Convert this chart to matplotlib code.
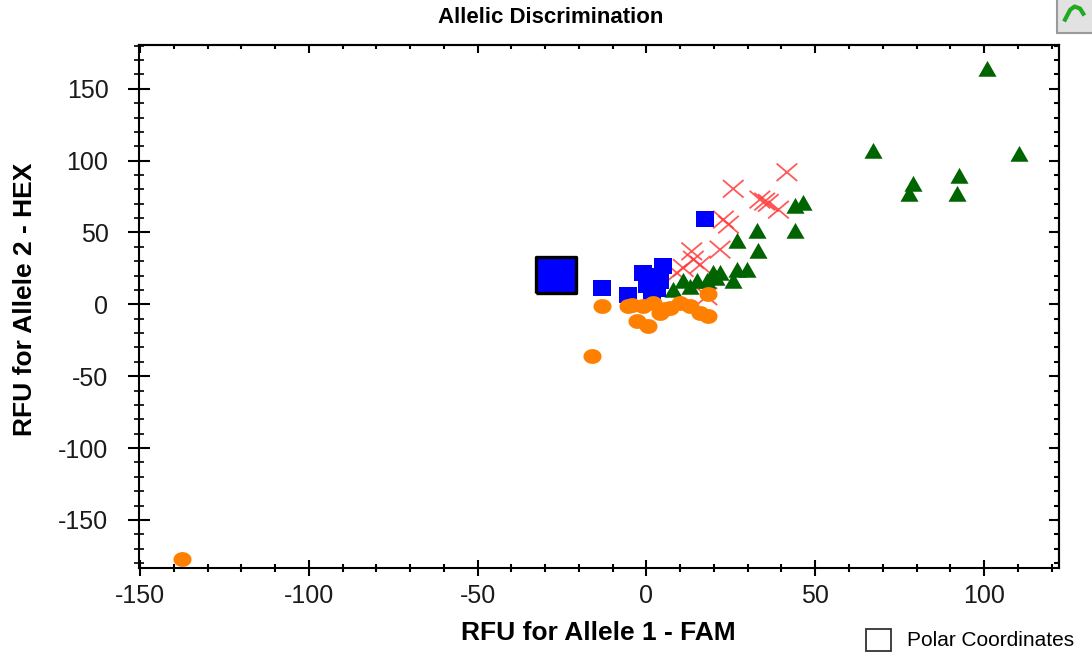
import numpy as np
import matplotlib
matplotlib.use("Agg")
import matplotlib.pyplot as plt
from matplotlib.path import Path
from matplotlib.ticker import MultipleLocator
from matplotlib.patches import Rectangle
from matplotlib.lines import Line2D

plt.rcParams['font.family'] = ['Liberation Sans', 'DejaVu Sans']
plt.rcParams['axes.unicode_minus'] = False

# ---- data (RFU FAM, RFU HEX) ----
homo1_x = [100.8, 67.2, 110.2, 78.9, 77.9, 92.7, 91.9, 44.0, 46.5, 44.0, 32.7, 33.1,
           26.7, 29.7, 26.7, 21.8, 19.8, 25.7, 17.9, 14.9, 10.9, 8.0, 12.9, 20.5]
homo1_y = [163.4, 106.5, 104.9, 83.4, 77.1, 89.1, 77.1, 68.2, 70.6, 50.8, 50.8, 36.9,
           43.9, 24.2, 24.2, 21.9, 21.9, 16.0, 16.0, 16.0, 16.0, 10.2, 12.3, 18.5]

hetero_x = [41.6, 25.7, 33.6, 36.1, 39.1, 22.8, 24.3, 21.8, 13.4, 13.9, 15.9, 10.9, 9.0, 17.9, 35.0]
hetero_y = [91.9, 80.4, 72.9, 70.6, 65.9, 59.0, 55.5, 38.1, 36.9, 31.1, 27.6, 25.3, 21.9, 5.6, 71.5]

homo2_x = [-13.2, -5.4, 17.4, 5.0, 1.1, 0.1, 1.6, 4.0, -0.9, 3.0]
homo2_y = [11.4, 6.8, 59.7, 26.5, 19.5, 13.7, 7.9, 16.0, 21.9, 11.0]

ntc_x = [-13.2, -16.2, -5.4, -2.9, 0.6, -0.9, 4.0, 7.0, 9.9, 12.9, 15.9, 18.3, 18.3, 2.0, -4.3, 5.5, -137.6]
ntc_y = [-1.4, -36.2, -1.4, -11.8, -15.3, -1.4, -6.0, -2.5, 1.0, -1.4, -6.0, -8.4, 7.5, 1.0, -0.2, -3.0, -177.3]

selected_x = [-26.7]
selected_y = [20.3]

x_ticks = [-150, -100, -50, 0, 50, 100]
y_ticks = [-150, -100, -50, 0, 50, 100, 150]

# ---- markers (slightly wider than tall, like the original rendering) ----
t = np.linspace(0, 2 * np.pi, 41)
m_ellipse = np.column_stack([np.cos(t), 0.82 * np.sin(t)])
m_square = [(-1, -0.87), (1, -0.87), (1, 0.87), (-1, 0.87), (-1, -0.87)]
m_tri = [(-1, -0.8), (1, -0.8), (0, 0.95), (-1, -0.8)]
m_x = Path([(-1, -0.85), (1, 0.85), (-1, 0.85), (1, -0.85)],
           [Path.MOVETO, Path.LINETO, Path.MOVETO, Path.LINETO])

fig = plt.figure(figsize=(10.92, 6.54), dpi=100)
ax = fig.add_axes([0.1273, 0.1311, 0.8425, 0.8])

ax.scatter(hetero_x, hetero_y, s=220, marker=m_x, facecolors='none',
           edgecolors='#ff3c3c', linewidths=1.3, alpha=0.85, zorder=2)
ax.scatter(homo1_x, homo1_y, s=170, marker=m_tri, color='#006400', linewidths=0, zorder=3)
ax.scatter(homo2_x, homo2_y, s=165, marker=m_square, color='#0000ff', linewidths=0, zorder=4)
ax.scatter(ntc_x, ntc_y, s=170, marker=m_ellipse, color='#ff8000', linewidths=0, zorder=5)
ax.scatter(selected_x, selected_y, s=850, marker=m_square, facecolor='#0000ff',
           edgecolor='black', linewidths=2.4, zorder=6)

ax.set_xlim(-150.3, 122.2)
ax.set_ylim(-183.6, 180.4)

ax.set_xticks(x_ticks)
ax.set_yticks(y_ticks)
ax.xaxis.set_minor_locator(MultipleLocator(10))
ax.yaxis.set_minor_locator(MultipleLocator(10))

for s in ax.spines.values():
    s.set_linewidth(1.5)

ax.tick_params(axis='both', which='both', direction='inout', labelsize=18,
               labelcolor='#1a1a1a', width=1.5, top=False, right=False)
ax.tick_params(axis='x', which='major', length=12, pad=5)
ax.tick_params(axis='x', which='minor', length=5.5)
ax.tick_params(axis='y', which='major', length=16, pad=14)
ax.tick_params(axis='y', which='minor', length=7, width=1.2)

# inward ticks on top and right
top = ax.secondary_xaxis('top')
top.set_xticks(x_ticks)
top.xaxis.set_minor_locator(MultipleLocator(10))
top.tick_params(which='both', direction='in', labeltop=False, width=1.5)
top.tick_params(which='major', length=6)
top.tick_params(which='minor', length=3)
top.spines['top'].set_linewidth(1.5)

right = ax.secondary_yaxis('right')
right.set_yticks(y_ticks)
right.yaxis.set_minor_locator(MultipleLocator(10))
right.tick_params(which='both', direction='in', labelright=False, width=1.5)
right.tick_params(which='major', length=7)
right.tick_params(which='minor', length=3.5)
right.spines['right'].set_linewidth(1.5)

# texts
fig.text(0.5046, 0.9725, 'Allelic Discrimination', ha='center', va='center',
         fontsize=16, fontweight='bold')
fig.text(0.5476, 0.0321, 'RFU for Allele 1 - FAM', ha='center', va='center',
         fontsize=19, fontweight='bold')
fig.text(0.0229, 0.5428, 'RFU for Allele 2 - HEX', ha='center', va='center',
         fontsize=19, fontweight='bold', rotation=90)

# "Polar Coordinates" check box
fig.patches.append(Rectangle((0.793, 0.004), 0.0229, 0.0336, transform=fig.transFigure,
                             facecolor='white', edgecolor='#333333', linewidth=1.3))
fig.text(0.8306, 0.0199, 'Polar Coordinates', ha='left', va='center', fontsize=15)

# small toolbar button at top right
fig.patches.append(Rectangle((0.968, 0.9495), 0.04, 0.06, transform=fig.transFigure,
                             facecolor='#e2e2e2', edgecolor='#9a9a9a', linewidth=1.5))
fig.lines.append(Line2D([0.9753, 0.9800, 0.9840, 0.9890, 0.9920],
                        [0.9700, 0.9850, 0.9900, 0.9870, 0.9790],
                        transform=fig.transFigure, color='#1faa1f', linewidth=3))

fig.savefig('out.png', dpi=100)
